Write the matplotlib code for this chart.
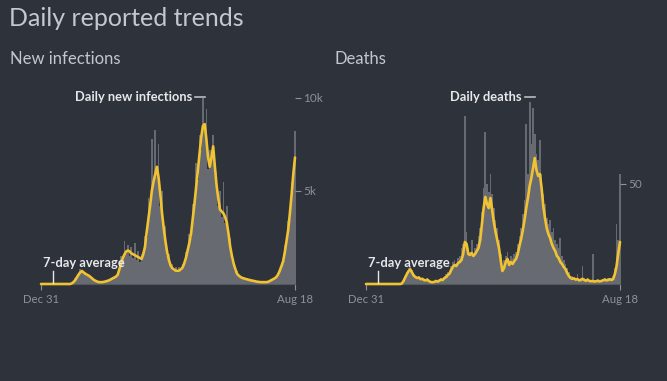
import matplotlib
matplotlib.use("Agg")
import matplotlib.pyplot as plt
from matplotlib.lines import Line2D
import pandas as pd

# ---------------- data ----------------
start_date = "2019-12-31"
end_date = "2021-08-18"
step = "4D"
x_tick_labels = ["Dec 31", "Aug 18"]

# New infections (thousands), 7-day average, sampled every 4 days
inf_avg = [0, 0, 0, 0, 0, 0, 0, 0, 0, 0, 0, 0, 0, 0, 0, 0, 0, 0,
           0.03, 0.1, 0.2, 0.35, 0.5, 0.62, 0.7, 0.62, 0.55, 0.5, 0.45, 0.38,
           0.3, 0.22, 0.17, 0.13, 0.1, 0.1, 0.1, 0.12, 0.14, 0.17,
           0.2, 0.25, 0.3, 0.35, 0.4, 0.5, 0.8, 1.1, 1.4, 1.6,
           1.75, 1.8, 1.75, 1.65, 1.6, 1.55, 1.5, 1.45, 1.4, 1.35,
           1.6, 2.0, 2.8, 3.5, 4.2, 5.0, 5.5, 5.9, 6.3, 5.7,
           4.8, 3.8, 3.0, 2.3, 1.7, 1.3, 1.0, 0.85, 0.78, 0.72,
           0.7, 0.72, 0.78, 0.88, 1.1, 1.4, 1.8, 2.2, 2.7, 3.5,
           4.3, 5.2, 6.1, 7.0, 7.9, 8.5, 8.6, 7.8, 6.8, 6.3,
           6.8, 7.4, 6.3, 5.3, 4.6, 4.0, 3.9, 3.8, 3.6, 3.3,
           2.7, 2.0, 1.5, 1.1, 0.8, 0.55, 0.45, 0.38, 0.33, 0.3,
           0.27, 0.25, 0.22, 0.2, 0.18, 0.16, 0.14, 0.12, 0.11, 0.1,
           0.1, 0.1, 0.1, 0.11, 0.15, 0.2, 0.25, 0.3, 0.37, 0.5,
           0.7, 0.95, 1.2, 1.7, 2.3, 2.9, 3.8, 4.8, 5.9, 6.8]

# New infections (thousands), daily reported
inf_daily = [0, 0, 0, 0, 0, 0, 0, 0, 0, 0, 0, 0, 0, 0, 0, 0, 0, 0,
             0.05, 0.15, 0.3, 0.4, 0.6, 0.8, 0.75, 0.6, 0.65, 0.45, 0.5, 0.35,
             0.3, 0.25, 0.15, 0.12, 0.1, 0.12, 0.08, 0.15, 0.12, 0.2,
             0.18, 0.3, 0.28, 0.4, 0.45, 0.6, 1.0, 1.5, 1.3, 2.3,
             1.6, 2.1, 1.5, 2.0, 1.4, 2.2, 1.3, 1.8, 1.2, 1.6,
             1.7, 2.6, 2.5, 4.6, 3.9, 7.8, 5.2, 8.3, 6.0, 7.5,
             4.2, 5.0, 2.8, 3.1, 1.5, 1.6, 0.9, 1.1, 0.7, 0.9,
             0.6, 0.9, 0.7, 1.1, 1.0, 1.7, 1.6, 2.7, 2.5, 4.3,
             4.0, 6.5, 5.6, 8.0, 7.2, 10.0, 8.2, 9.4, 6.2, 7.2,
             6.5, 8.0, 5.9, 6.0, 4.2, 5.0, 3.6, 5.5, 3.3, 4.2,
             2.4, 2.5, 1.3, 1.3, 0.7, 0.7, 0.4, 0.45, 0.3, 0.35,
             0.25, 0.3, 0.2, 0.22, 0.16, 0.18, 0.13, 0.14, 0.1, 0.12,
             0.09, 0.12, 0.1, 0.14, 0.14, 0.25, 0.22, 0.36, 0.35, 0.6,
             0.7, 1.2, 1.1, 2.1, 2.2, 3.4, 3.6, 5.5, 5.8, 8.2]

# Deaths, 7-day average, sampled every 4 days
death_avg = [0, 0, 0, 0, 0, 0, 0, 0, 0, 0, 0, 0, 0, 0, 0, 0, 0, 0, 0, 0, 0,
             0.2, 1.5, 3.3, 5.0, 6.5, 7.3, 5.8, 4.2, 3.5,
             3.0, 3.2, 2.4, 2.6, 2.0, 1.8, 2.2, 1.4, 1.0, 0.9,
             1.0, 1.5, 1.2, 1.6, 2.2, 2.0, 3.0, 3.4, 4.5, 5.2,
             7.0, 8.6, 9.5, 9.0, 10.5, 11.0, 12.0, 15.0, 21.0, 20.0,
             15.0, 14.5, 15.5, 14.0, 15.0, 16.5, 18.0, 22.0, 30.0, 38.0,
             43.5, 40.0, 38.0, 43.0, 37.0, 31.0, 26.0, 22.0, 18.0, 12.0,
             6.5, 8.0, 11.0, 12.5, 9.5, 11.0, 10.0, 11.5, 12.5, 15.0,
             19.0, 22.5, 27.0, 32.0, 38.0, 43.0, 49.0, 53.0, 58.0, 63.0,
             57.0, 54.0, 55.0, 48.0, 39.0, 33.0, 28.0, 25.0, 23.0, 20.0,
             18.0, 16.5, 14.0, 13.0, 11.0, 10.0, 8.5, 7.5, 5.5, 4.0,
             3.0, 2.6, 2.8, 2.2, 2.5, 1.8, 2.0, 2.6, 2.0, 1.6,
             2.2, 1.5, 1.4, 1.5, 1.2, 1.4, 1.6, 1.3, 1.5, 1.8,
             2.2, 1.8, 2.0, 2.4, 2.0, 2.5, 5.0, 9.0, 15.5, 21.0]

# Deaths, daily reported
death_daily = [0, 0, 0, 0, 0, 0, 0, 0, 0, 0, 0, 0, 0, 0, 0, 0, 0, 0, 0, 0, 0,
               0.5, 2, 4, 6, 8, 9, 7, 5, 4,
               3.5, 4, 3, 3, 2.5, 2, 3, 2, 1.5, 1,
               1.5, 2, 1.5, 2.5, 3, 2.5, 4, 5, 6, 7,
               9, 11, 12, 10, 13, 14, 18, 20, 84, 26,
               18, 16, 22, 15, 18, 20, 24, 28, 36, 48,
               76, 50, 46, 55, 45, 38, 32, 28, 22, 15,
               8, 12, 14, 16, 12, 14, 13, 15, 16, 20,
               24, 28, 35, 42, 80, 55, 91, 70, 88, 75,
               65, 62, 72, 55, 45, 40, 33, 30, 32, 26,
               28, 22, 20, 18, 23, 14, 12, 10, 8, 6,
               4, 4, 3.5, 3, 5, 2.5, 3, 9, 3, 2.5,
               3, 2, 2, 15, 2, 2, 2.5, 2, 2, 2.5,
               3, 2.5, 3, 3, 3, 4, 8, 30, 22, 55]

inf_ticks = [5, 10]
inf_tick_labels = ["5k", "10k"]
death_ticks = [50]
death_tick_labels = ["50"]

dates = pd.date_range(start_date, end_date, freq=step)

# ---------------- style ----------------
BG = "#2e323a"
BAR = "#676a70"
YEL = "#f1c232"
TXT = "#c4c8cd"
TICK = "#8e9197"
ANN = "#e6e8eb"
FONT = ["Lato", "DejaVu Sans"]

W, H = 667, 381
fig = plt.figure(figsize=(W / 100, H / 100), dpi=100)
fig.patch.set_facecolor(BG)


def px(x, y):
    return x / W, 1 - y / H


fig.text(*px(9, 18), "Daily reported trends", fontsize=18, color=TXT,
         family=FONT, fontweight="normal", va="center", ha="left")
fig.text(*px(10, 59), "New infections", fontsize=12, color=TXT,
         family=FONT, va="center", ha="left")
fig.text(*px(335, 59), "Deaths", fontsize=12, color=TXT,
         family=FONT, va="center", ha="left")

panels = [
    dict(left=41, avg=inf_avg, daily=inf_daily, top=10.0, ticks=inf_ticks,
         tlabels=inf_tick_labels, label="Daily new infections", lab_x=192),
    dict(left=366, avg=death_avg, daily=death_daily, top=93.0, ticks=death_ticks,
         tlabels=death_tick_labels, label="Daily deaths", lab_x=522),
]

ax_w = 254
y_base = 284
y_top = 98

for p in panels:
    ax = fig.add_axes([p["left"] / W, (H - y_base) / H, ax_w / W, (y_base - y_top) / H])
    ax.set_facecolor(BG)
    ax.bar(dates, p["daily"], width=4.0, color=BAR, edgecolor="none", align="center",
           clip_on=False, zorder=1)
    ax.plot(dates, p["avg"], color=YEL, lw=1.9, solid_joinstyle="round",
            solid_capstyle="round", clip_on=False, zorder=3)
    ax.set_xlim(dates[0], dates[-1])
    ax.set_ylim(0, p["top"])
    for s in ["top", "left", "right"]:
        ax.spines[s].set_visible(False)
    ax.spines["bottom"].set_color("#55585f")
    ax.spines["bottom"].set_linewidth(0.8)
    ax.set_xticks([dates[0], dates[-1]])
    ax.set_xticklabels(x_tick_labels)
    ax.tick_params(axis="x", colors=TICK, length=4, width=0.8, pad=3, labelsize=8.2)
    ax.yaxis.tick_right()
    ax.set_yticks(p["ticks"])
    ax.set_yticklabels(p["tlabels"])
    ax.tick_params(axis="y", colors=TICK, length=4, width=0.8, pad=2, labelsize=8.5,
                   direction="out")
    for lab in ax.get_xticklabels() + ax.get_yticklabels():
        lab.set_family(FONT)

    # annotation: daily label with dash
    fig.text(*px(p["lab_x"], 97), p["label"], fontsize=9.3, fontweight="bold",
             color=ANN, family=FONT, ha="right", va="center")
    x0 = p["lab_x"] + 3
    fig.add_artist(Line2D([x0 / W, (x0 + 10) / W], [1 - 97 / H, 1 - 97 / H],
                          color="#b9bcc1", lw=1.2))
    # annotation: 7-day average
    fig.text(*px(p["left"] + 2, 263), "7-day average", fontsize=9.3, fontweight="bold",
             color=ANN, family=FONT, ha="left", va="center")
    xv = p["left"] + 12
    fig.add_artist(Line2D([xv / W, xv / W], [1 - 271 / H, 1 - 283 / H],
                          color=ANN, lw=1.0))

fig.savefig("out.png", dpi=100, facecolor=BG)
